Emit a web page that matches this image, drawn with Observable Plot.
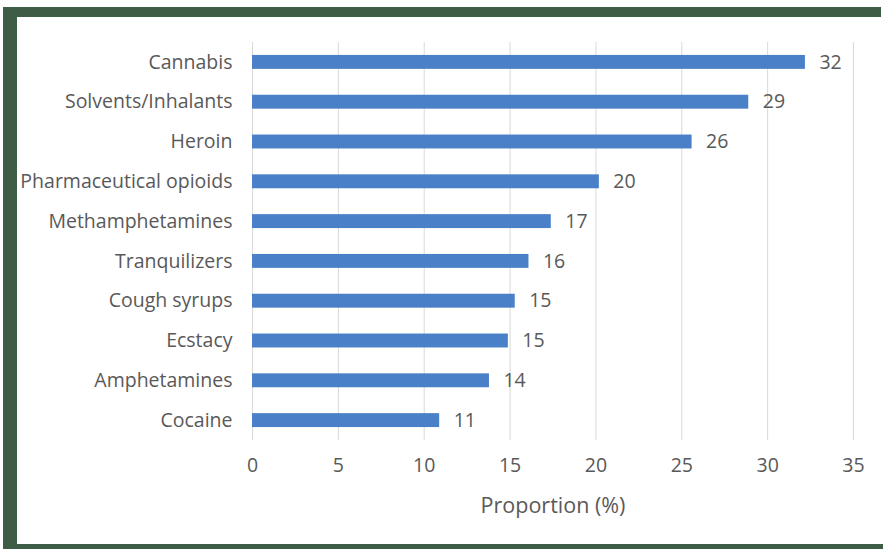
<!DOCTYPE html>
<html>
<head>
<meta charset="utf-8">
<script src="https://cdn.jsdelivr.net/npm/d3@7"></script>
<script src="https://cdn.jsdelivr.net/npm/@observablehq/plot@0.6"></script>
<style>
  html, body { margin: 0; padding: 0; background: #fff; }
  #wrap { position: relative; width: 883px; height: 549px; overflow: hidden; }
  .band { position: absolute; background: #3e5d46; }
  #chart svg { display: block; }
</style>
</head>
<body>
<div id="wrap">
  <div id="chart"></div>
  <div class="band" style="left:7px; top:7px; width:874px; height:10px;"></div>
  <div class="band" style="left:3px; top:7px; width:14px; height:542px;"></div>
  <div class="band" style="left:3px; top:544px; width:880px; height:5px;"></div>
</div>
<script>
const categories = ["Cannabis", "Solvents/Inhalants", "Heroin", "Pharmaceutical opioids", "Methamphetamines", "Tranquilizers", "Cough syrups", "Ecstacy", "Amphetamines", "Cocaine"];
const values = [32.2, 28.9, 25.6, 20.2, 17.4, 16.1, 15.3, 14.9, 13.8, 10.9];
const valueLabels = ["32", "29", "26", "20", "17", "16", "15", "15", "14", "11"];
const xTicks = [0, 5, 10, 15, 20, 25, 30, 35];
const xTitle = "Proportion (%)";

const data = categories.map((c, i) => ({ category: c, value: values[i], label: valueLabels[i] }));

const chart = Plot.plot({
  width: 883,
  height: 549,
  marginLeft: 252,
  marginRight: 30,
  marginTop: 42,
  marginBottom: 109,
  style: { fontFamily: "'Open Sans', sans-serif", fontSize: "19.5px", color: "#595959", background: "transparent" },
  x: { domain: [0, 35], ticks: xTicks },
  y: { domain: categories, paddingInner: 0.65, paddingOuter: 0.325, round: false },
  marks: [
    Plot.gridX(xTicks, { stroke: "#d9d9d9", strokeOpacity: 1 }),
    Plot.barX(data, { y: "category", x: "value", fill: "#4a80c8" }),
    Plot.text(data, { y: "category", x: "value", text: "label", textAnchor: "start", dx: 14, fill: "#595959", fontSize: 19.5 }),
    Plot.axisX(xTicks, { tickSize: 0, tickPadding: 18, label: null, fontSize: 19.5, fill: "#595959" }),
    Plot.axisY({ tickSize: 0, tickPadding: 20, label: null, fontSize: 19.5, fill: "#595959" }),
    Plot.text([xTitle], { frameAnchor: "bottom", dy: 72, fontSize: 21.5, fill: "#595959" })
  ]
});
document.getElementById("chart").appendChild(chart);
</script>
</body>
</html>
